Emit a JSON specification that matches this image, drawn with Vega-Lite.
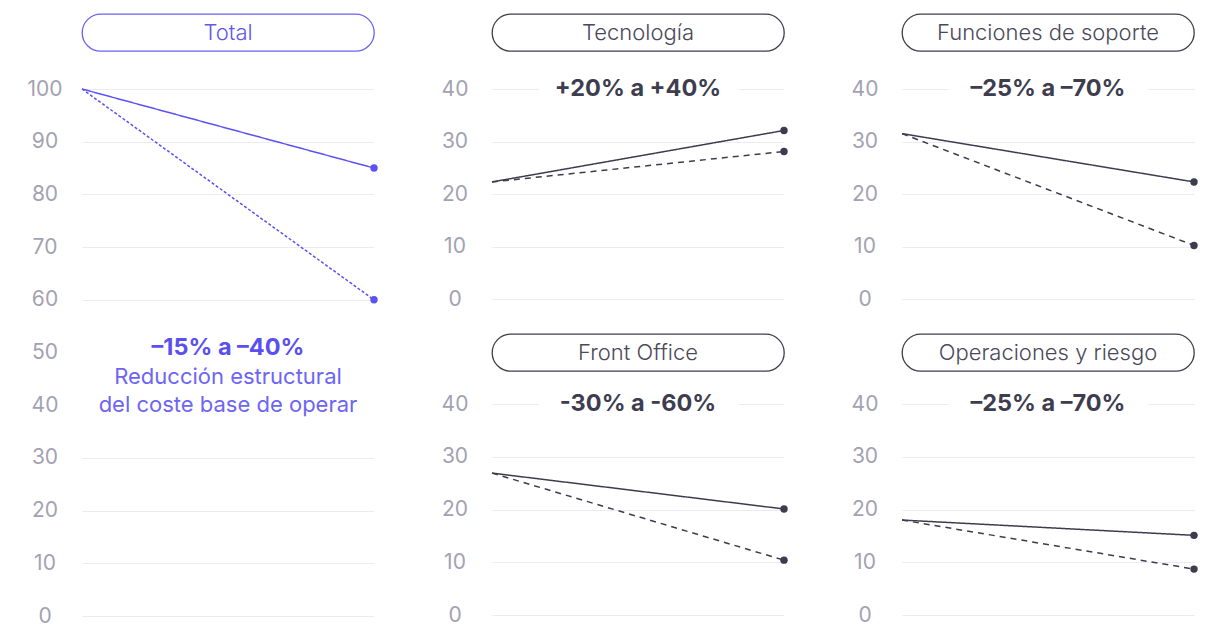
{
  "$schema": "https://vega.github.io/schema/vega-lite/v6.json",
  "padding": {"left": 26, "top": 13, "right": 5, "bottom": 0},
  "background": "white",
  "config": {
    "font": "Inter",
    "view": {"stroke": null},
    "axis": {
      "domain": false,
      "ticks": false,
      "title": null,
      "labelFont": "Inter",
      "labelFontSize": 21,
      "labelColor": "#a3a2b3",
      "labelAlign": "center",
      "labelPadding": 37.5,
      "gridColor": "#ecebf3",
      "gridWidth": 1
    }
  },
  "datasets": {
    "costes": [
      {"area": "Total", "escenario": "A", "etapa": "Actual", "valor": 100},
      {"area": "Total", "escenario": "A", "etapa": "Objetivo", "valor": 85},
      {"area": "Total", "escenario": "B", "etapa": "Actual", "valor": 100},
      {"area": "Total", "escenario": "B", "etapa": "Objetivo", "valor": 60},
      {"area": "Tecnología", "escenario": "A", "etapa": "Actual", "valor": 22.3},
      {"area": "Tecnología", "escenario": "A", "etapa": "Objetivo", "valor": 32.1},
      {"area": "Tecnología", "escenario": "B", "etapa": "Actual", "valor": 22.3},
      {"area": "Tecnología", "escenario": "B", "etapa": "Objetivo", "valor": 28.1},
      {"area": "Funciones de soporte", "escenario": "A", "etapa": "Actual", "valor": 31.5},
      {"area": "Funciones de soporte", "escenario": "A", "etapa": "Objetivo", "valor": 22.3},
      {"area": "Funciones de soporte", "escenario": "B", "etapa": "Actual", "valor": 31.5},
      {"area": "Funciones de soporte", "escenario": "B", "etapa": "Objetivo", "valor": 10.2},
      {"area": "Front Office", "escenario": "A", "etapa": "Actual", "valor": 26.9},
      {"area": "Front Office", "escenario": "A", "etapa": "Objetivo", "valor": 20.1},
      {"area": "Front Office", "escenario": "B", "etapa": "Actual", "valor": 26.9},
      {"area": "Front Office", "escenario": "B", "etapa": "Objetivo", "valor": 10.4},
      {"area": "Operaciones y riesgo", "escenario": "A", "etapa": "Actual", "valor": 18.0},
      {"area": "Operaciones y riesgo", "escenario": "A", "etapa": "Objetivo", "valor": 15.1},
      {"area": "Operaciones y riesgo", "escenario": "B", "etapa": "Actual", "valor": 18.0},
      {"area": "Operaciones y riesgo", "escenario": "B", "etapa": "Objetivo", "valor": 8.7}
    ],
    "areas": [
      {"area": "Total", "rango": "–15% a –40%", "nota": ["Reducción estructural", "del coste base de operar"]},
      {"area": "Tecnología", "rango": "+20% a +40%"},
      {"area": "Funciones de soporte", "rango": "–25% a –70%"},
      {"area": "Front Office", "rango": "-30% a -60%"},
      {"area": "Operaciones y riesgo", "rango": "–25% a –70%"}
    ]
  },
  "spacing": 63,
  "resolve": {"scale": {"strokeDash": "independent"}},
  "hconcat": [
    {
      "bounds": "flush",
      "spacing": 38,
      "vconcat": [
        {
          "width": 292, "height": 37,
          "view": {"stroke": "#6a62f3", "strokeWidth": 1.3, "cornerRadius": 18.5, "fill": "white"},
          "data": {"name": "areas"},
          "transform": [{"filter": "datum.area === 'Total'"}],
          "mark": {"type": "text", "fontSize": 22, "fontWeight": 300, "color": "#5f57f1"},
          "encoding": {"text": {"field": "area"}}
        },
        {
          "width": 292, "height": 527,
          "layer": [
            {
              "data": {"name": "costes"},
              "transform": [{"filter": "datum.area === 'Total'"}],
              "mark": {"type": "line", "strokeWidth": 1.5, "color": "#5b52f2"},
              "encoding": {
                "x": {"field": "etapa", "type": "ordinal", "sort": ["Actual", "Objetivo"], "scale": {"padding": 0}, "axis": null},
                "y": {
                  "field": "valor", "type": "quantitative",
                  "scale": {"domain": [0, 100], "nice": false},
                  "axis": {
                    "values": [0, 10, 20, 30, 40, 50, 60, 70, 80, 90, 100],
                    "gridOpacity": {"condition": {"test": "datum.value === 40 || datum.value === 50", "value": 0}, "value": 1}
                  }
                },
                "strokeDash": {"field": "escenario", "type": "nominal", "scale": {"domain": ["A", "B"], "range": [[1, 0], [3, 2]]}, "legend": null}
              }
            },
            {
              "data": {"name": "costes"},
              "transform": [{"filter": "datum.area === 'Total' && datum.etapa === 'Objetivo'"}],
              "mark": {"type": "point", "filled": true, "size": 55, "opacity": 1, "color": "#5b52f2"},
              "encoding": {
                "x": {"field": "etapa", "type": "ordinal", "sort": ["Actual", "Objetivo"]},
                "y": {"field": "valor", "type": "quantitative"}
              }
            },
            {
              "data": {"name": "areas"},
              "transform": [{"filter": "datum.area === 'Total'"}],
              "mark": {"type": "text", "fontSize": 23.5, "fontWeight": 700, "color": "#5a50ef"},
              "encoding": {"text": {"field": "rango"}, "y": {"datum": 50.8}}
            },
            {
              "data": {"name": "areas"},
              "transform": [{"filter": "datum.area === 'Total'"}],
              "mark": {"type": "text", "fontSize": 22, "color": "#6d65f4", "lineHeight": 28, "baseline": "top"},
              "encoding": {"text": {"field": "nota"}, "y": {"datum": 47.3}}
            }
          ]
        }
      ]
    },
    {
      "spacing": 24,
      "vconcat": [
        {
          "bounds": "flush",
          "spacing": 38,
          "vconcat": [
            {
              "width": 292, "height": 37,
              "view": {"stroke": "#3f3e4d", "strokeWidth": 1.3, "cornerRadius": 18.5, "fill": "white"},
              "data": {"name": "areas"},
              "transform": [{"filter": "datum.area === 'Tecnología'"}],
              "mark": {"type": "text", "fontSize": 22, "fontWeight": 300, "color": "#4a4959"},
              "encoding": {"text": {"field": "area"}}
            },
            {
              "width": 292, "height": 210,
              "layer": [
                {
                  "data": {"name": "costes"},
                  "transform": [{"filter": "datum.area === 'Tecnología'"}],
                  "mark": {"type": "line", "strokeWidth": 1.5, "color": "#3d3c4e"},
                  "encoding": {
                    "x": {"field": "etapa", "type": "ordinal", "sort": ["Actual", "Objetivo"], "scale": {"padding": 0}, "axis": null},
                    "y": {
                      "field": "valor", "type": "quantitative",
                      "scale": {"domain": [0, 40], "nice": false},
                      "axis": {"values": [0, 10, 20, 30, 40], "gridDash": {"condition": {"test": "datum.value === 40", "value": [46, 200]}, "value": []}}
                    },
                    "strokeDash": {"field": "escenario", "type": "nominal", "scale": {"domain": ["A", "B"], "range": [[1, 0], [6, 5]]}, "legend": null}
                  }
                },
                {
                  "data": {"name": "costes"},
                  "transform": [{"filter": "datum.area === 'Tecnología' && datum.etapa === 'Objetivo'"}],
                  "mark": {"type": "point", "filled": true, "size": 55, "opacity": 1, "color": "#3d3c4e"},
                  "encoding": {
                    "x": {"field": "etapa", "type": "ordinal", "sort": ["Actual", "Objetivo"]},
                    "y": {"field": "valor", "type": "quantitative"}
                  }
                },
                {
                  "data": {"name": "areas"},
                  "transform": [{"filter": "datum.area === 'Tecnología'"}],
                  "mark": {"type": "text", "fontSize": 23.5, "fontWeight": 700, "color": "#3e3d4f"},
                  "encoding": {"text": {"field": "rango"}, "y": {"datum": 40}}
                }
              ]
            }
          ]
        },
        {
          "bounds": "flush",
          "spacing": 33,
          "vconcat": [
            {
              "width": 292, "height": 37,
              "view": {"stroke": "#3f3e4d", "strokeWidth": 1.3, "cornerRadius": 18.5, "fill": "white"},
              "data": {"name": "areas"},
              "transform": [{"filter": "datum.area === 'Front Office'"}],
              "mark": {"type": "text", "fontSize": 22, "fontWeight": 300, "color": "#4a4959"},
              "encoding": {"text": {"field": "area"}}
            },
            {
              "width": 292, "height": 211,
              "layer": [
                {
                  "data": {"name": "costes"},
                  "transform": [{"filter": "datum.area === 'Front Office'"}],
                  "mark": {"type": "line", "strokeWidth": 1.5, "color": "#3d3c4e"},
                  "encoding": {
                    "x": {"field": "etapa", "type": "ordinal", "sort": ["Actual", "Objetivo"], "scale": {"padding": 0}, "axis": null},
                    "y": {
                      "field": "valor", "type": "quantitative",
                      "scale": {"domain": [0, 40], "nice": false},
                      "axis": {"values": [0, 10, 20, 30, 40], "gridDash": {"condition": {"test": "datum.value === 40", "value": [46, 200]}, "value": []}}
                    },
                    "strokeDash": {"field": "escenario", "type": "nominal", "scale": {"domain": ["A", "B"], "range": [[1, 0], [6, 5]]}, "legend": null}
                  }
                },
                {
                  "data": {"name": "costes"},
                  "transform": [{"filter": "datum.area === 'Front Office' && datum.etapa === 'Objetivo'"}],
                  "mark": {"type": "point", "filled": true, "size": 55, "opacity": 1, "color": "#3d3c4e"},
                  "encoding": {
                    "x": {"field": "etapa", "type": "ordinal", "sort": ["Actual", "Objetivo"]},
                    "y": {"field": "valor", "type": "quantitative"}
                  }
                },
                {
                  "data": {"name": "areas"},
                  "transform": [{"filter": "datum.area === 'Front Office'"}],
                  "mark": {"type": "text", "fontSize": 23.5, "fontWeight": 700, "color": "#3e3d4f"},
                  "encoding": {"text": {"field": "rango"}, "y": {"datum": 40}}
                }
              ]
            }
          ]
        }
      ]
    },
    {
      "spacing": 24,
      "vconcat": [
        {
          "bounds": "flush",
          "spacing": 38,
          "vconcat": [
            {
              "width": 292, "height": 37,
              "view": {"stroke": "#3f3e4d", "strokeWidth": 1.3, "cornerRadius": 18.5, "fill": "white"},
              "data": {"name": "areas"},
              "transform": [{"filter": "datum.area === 'Funciones de soporte'"}],
              "mark": {"type": "text", "fontSize": 22, "fontWeight": 300, "color": "#4a4959"},
              "encoding": {"text": {"field": "area"}}
            },
            {
              "width": 292, "height": 210,
              "layer": [
                {
                  "data": {"name": "costes"},
                  "transform": [{"filter": "datum.area === 'Funciones de soporte'"}],
                  "mark": {"type": "line", "strokeWidth": 1.5, "color": "#3d3c4e"},
                  "encoding": {
                    "x": {"field": "etapa", "type": "ordinal", "sort": ["Actual", "Objetivo"], "scale": {"padding": 0}, "axis": null},
                    "y": {
                      "field": "valor", "type": "quantitative",
                      "scale": {"domain": [0, 40], "nice": false},
                      "axis": {"values": [0, 10, 20, 30, 40], "gridDash": {"condition": {"test": "datum.value === 40", "value": [46, 200]}, "value": []}}
                    },
                    "strokeDash": {"field": "escenario", "type": "nominal", "scale": {"domain": ["A", "B"], "range": [[1, 0], [6, 5]]}, "legend": null}
                  }
                },
                {
                  "data": {"name": "costes"},
                  "transform": [{"filter": "datum.area === 'Funciones de soporte' && datum.etapa === 'Objetivo'"}],
                  "mark": {"type": "point", "filled": true, "size": 55, "opacity": 1, "color": "#3d3c4e"},
                  "encoding": {
                    "x": {"field": "etapa", "type": "ordinal", "sort": ["Actual", "Objetivo"]},
                    "y": {"field": "valor", "type": "quantitative"}
                  }
                },
                {
                  "data": {"name": "areas"},
                  "transform": [{"filter": "datum.area === 'Funciones de soporte'"}],
                  "mark": {"type": "text", "fontSize": 23.5, "fontWeight": 700, "color": "#3e3d4f"},
                  "encoding": {"text": {"field": "rango"}, "y": {"datum": 40}}
                }
              ]
            }
          ]
        },
        {
          "bounds": "flush",
          "spacing": 33,
          "vconcat": [
            {
              "width": 292, "height": 37,
              "view": {"stroke": "#3f3e4d", "strokeWidth": 1.3, "cornerRadius": 18.5, "fill": "white"},
              "data": {"name": "areas"},
              "transform": [{"filter": "datum.area === 'Operaciones y riesgo'"}],
              "mark": {"type": "text", "fontSize": 22, "fontWeight": 300, "color": "#4a4959"},
              "encoding": {"text": {"field": "area"}}
            },
            {
              "width": 292, "height": 211,
              "layer": [
                {
                  "data": {"name": "costes"},
                  "transform": [{"filter": "datum.area === 'Operaciones y riesgo'"}],
                  "mark": {"type": "line", "strokeWidth": 1.5, "color": "#3d3c4e"},
                  "encoding": {
                    "x": {"field": "etapa", "type": "ordinal", "sort": ["Actual", "Objetivo"], "scale": {"padding": 0}, "axis": null},
                    "y": {
                      "field": "valor", "type": "quantitative",
                      "scale": {"domain": [0, 40], "nice": false},
                      "axis": {"values": [0, 10, 20, 30, 40], "gridDash": {"condition": {"test": "datum.value === 40", "value": [46, 200]}, "value": []}}
                    },
                    "strokeDash": {"field": "escenario", "type": "nominal", "scale": {"domain": ["A", "B"], "range": [[1, 0], [6, 5]]}, "legend": null}
                  }
                },
                {
                  "data": {"name": "costes"},
                  "transform": [{"filter": "datum.area === 'Operaciones y riesgo' && datum.etapa === 'Objetivo'"}],
                  "mark": {"type": "point", "filled": true, "size": 55, "opacity": 1, "color": "#3d3c4e"},
                  "encoding": {
                    "x": {"field": "etapa", "type": "ordinal", "sort": ["Actual", "Objetivo"]},
                    "y": {"field": "valor", "type": "quantitative"}
                  }
                },
                {
                  "data": {"name": "areas"},
                  "transform": [{"filter": "datum.area === 'Operaciones y riesgo'"}],
                  "mark": {"type": "text", "fontSize": 23.5, "fontWeight": 700, "color": "#3e3d4f"},
                  "encoding": {"text": {"field": "rango"}, "y": {"datum": 40}}
                }
              ]
            }
          ]
        }
      ]
    }
  ]
}
